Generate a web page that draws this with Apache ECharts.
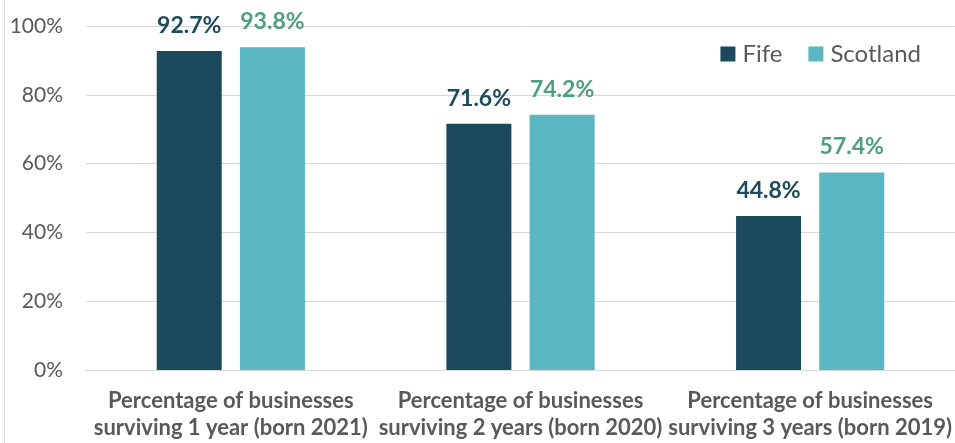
<!DOCTYPE html>
<html>
<head>
<meta charset="utf-8">
<script src="https://cdn.jsdelivr.net/npm/echarts@6/dist/echarts.min.js"></script>
<style>
  html, body { margin: 0; padding: 0; background: #ffffff; }
  #chart { width: 955px; height: 443px; }
</style>
</head>
<body>
<div id="chart"></div>
<script>
// Business survival rates, Fife vs Scotland
const categories = [
  'Percentage of businesses\nsurviving 1 year (born 2021)',
  'Percentage of businesses\nsurviving 2 years (born 2020)',
  'Percentage of businesses\nsurviving 3 years (born 2019)'
];
const fifeValues = [92.7, 71.6, 44.8];
const scotlandValues = [93.8, 74.2, 57.4];
const yTicks = [0, 20, 40, 60, 80, 100];

const FONT = 'Lato, "Open Sans", sans-serif';
const FIFE_COLOR = '#1c4a5c';
const SCOT_COLOR = '#5ab6c0';

const chart = echarts.init(document.getElementById('chart'));
chart.setOption({
  animation: false,
  textStyle: { fontFamily: FONT },
  graphic: [{
    type: 'line',
    shape: { x1: 4.5, y1: 0, x2: 4.5, y2: 443 },
    style: { stroke: '#d9d9d9', lineWidth: 1 }
  }],
  legend: {
    data: ['Fife', 'Scotland'],
    right: 29,
    top: 37,
    itemWidth: 15,
    itemHeight: 15,
    itemGap: 26,
    icon: 'rect',
    textStyle: { fontFamily: FONT, fontSize: 24, color: '#595959', padding: [0, 0, 0, 2] }
  },
  grid: { left: 86, right: 0, top: 26, bottom: 73, containLabel: false },
  xAxis: {
    type: 'category',
    data: categories,
    axisTick: { show: false },
    axisLine: { lineStyle: { color: '#d9d9d9', width: 1 } },
    axisLabel: {
      interval: 0,
      margin: 17,
      fontFamily: FONT,
      fontSize: 22,
      fontWeight: 'bold',
      color: '#595959',
      lineHeight: 27
    }
  },
  yAxis: {
    type: 'value',
    min: yTicks[0],
    max: yTicks[yTicks.length - 1],
    interval: 20,
    axisLine: { show: false },
    axisTick: { show: false },
    splitLine: { lineStyle: { color: '#d9d9d9', width: 1 } },
    axisLabel: {
      margin: 23,
      fontFamily: FONT,
      fontSize: 21,
      color: '#595959',
      formatter: v => v + '%'
    }
  },
  series: [
    {
      name: 'Fife',
      type: 'bar',
      data: fifeValues,
      barWidth: 65,
      barGap: '28%',
      itemStyle: { color: FIFE_COLOR },
      label: {
        show: true,
        position: 'top',
        distance: 14,
        fontFamily: FONT,
        fontSize: 23,
        fontWeight: 'bold',
        color: FIFE_COLOR,
        formatter: p => p.value.toFixed(1) + '%'
      }
    },
    {
      name: 'Scotland',
      type: 'bar',
      data: scotlandValues,
      barWidth: 65,
      itemStyle: { color: SCOT_COLOR },
      label: {
        show: true,
        position: 'top',
        distance: 14,
        fontFamily: FONT,
        fontSize: 23,
        fontWeight: 'bold',
        color: '#4e9f80',
        formatter: p => p.value.toFixed(1) + '%'
      }
    }
  ]
});
</script>
</body>
</html>
